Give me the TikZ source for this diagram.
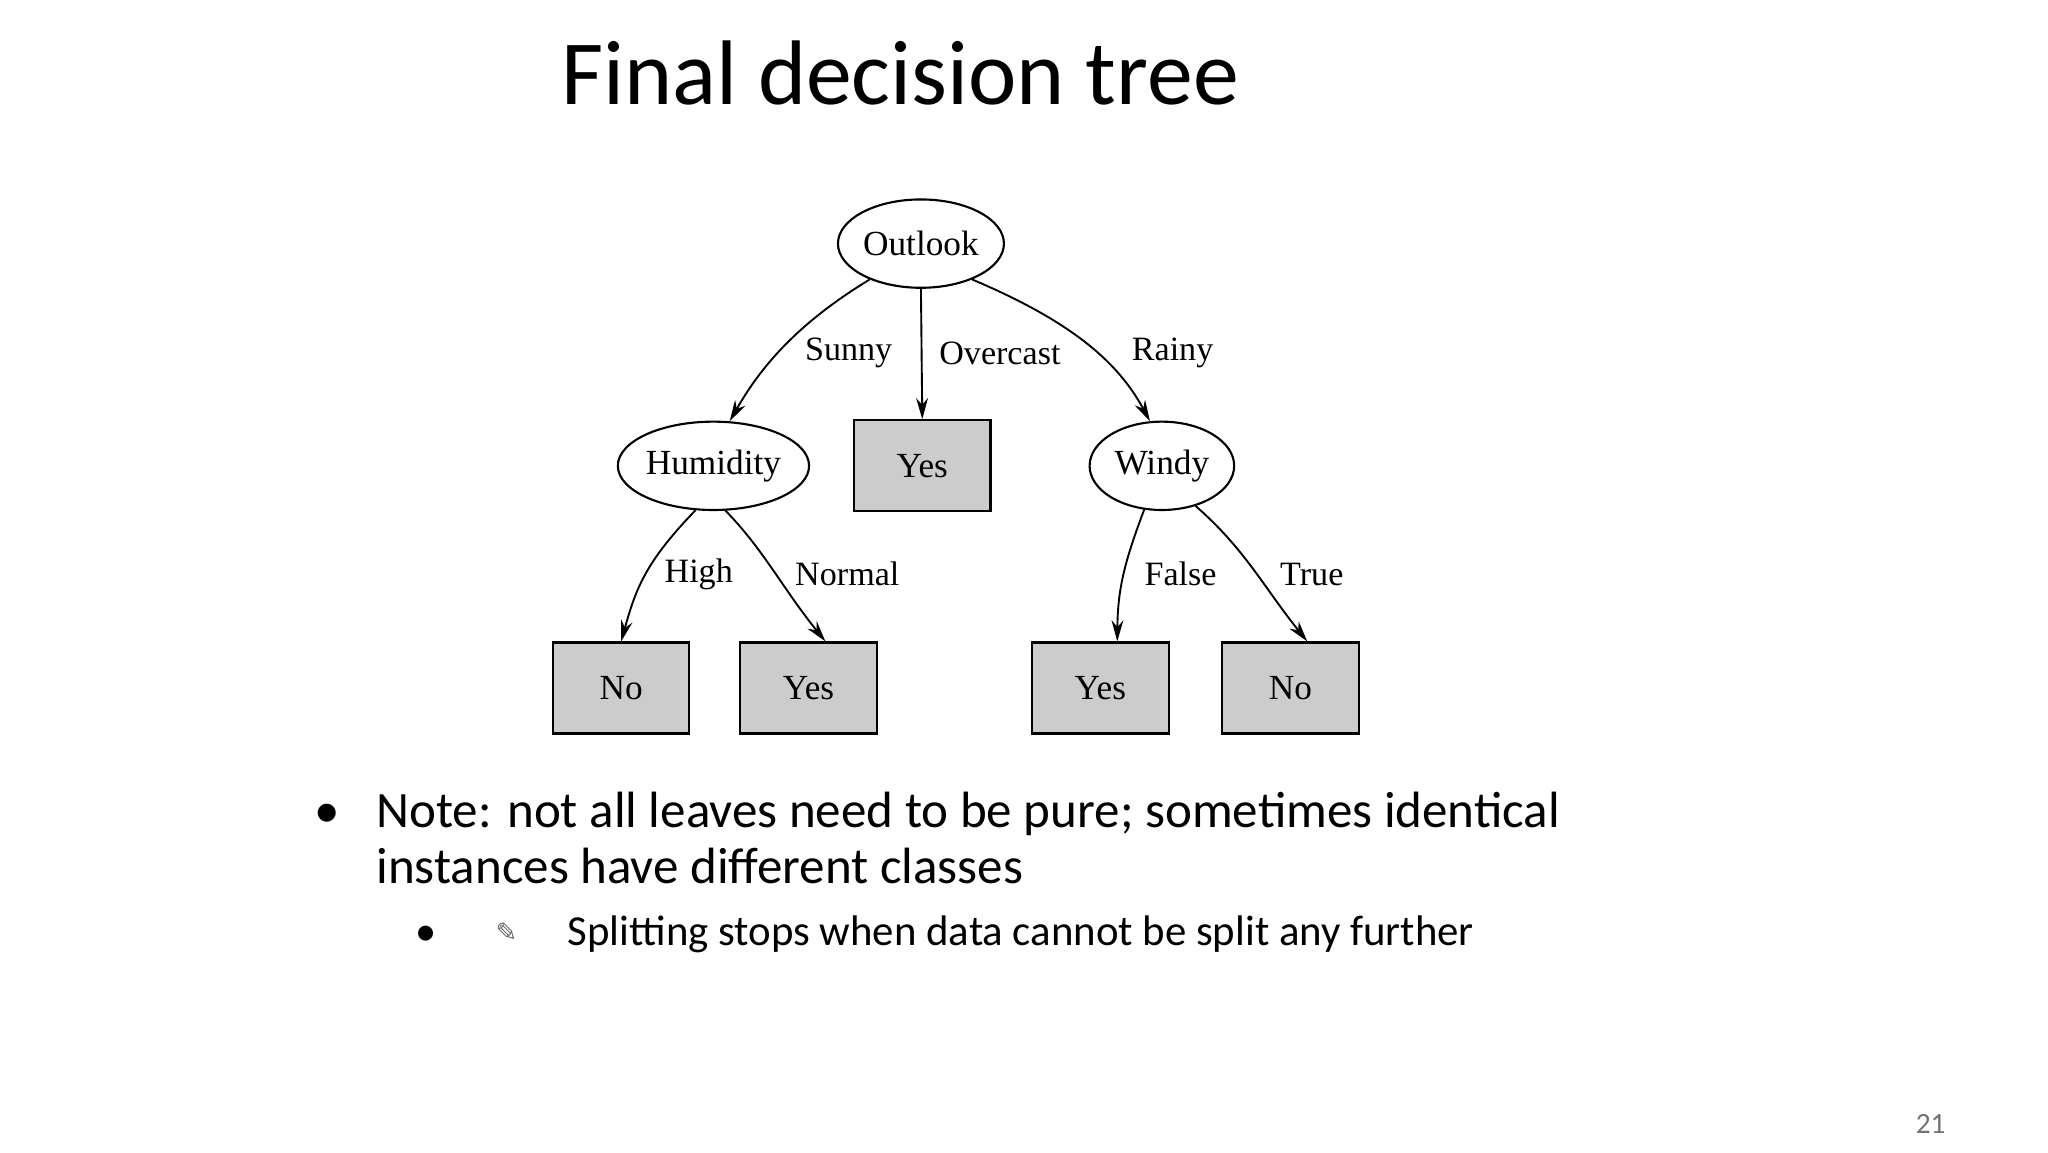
\documentclass[tikz,border=0pt]{standalone}
\usepackage{fontspec}
\setmainfont{Carlito}
\newfontfamily\tms{Liberation Serif}
\newfontfamily\dvs{DejaVu Sans}
\usetikzlibrary{shapes.geometric,arrows.meta}
\begin{document}
\begin{tikzpicture}[x=0.02cm,y=-0.02cm,
  el/.style={ellipse,draw,line width=0.9pt,minimum width=#1,minimum height=66*0.02cm,inner sep=0pt,font=\tms\fontsize{15}{18}\selectfont},
  leaf/.style={draw,line width=0.9pt,fill=black!20,minimum width=102*0.02cm,minimum height=68*0.02cm,inner sep=0pt,font=\tms\fontsize{15}{18}\selectfont},
  lbl/.style={font=\tms\fontsize{14.5}{18}\selectfont},
  edge/.style={-{Stealth[length=9pt,width=5pt]},line width=0.8pt}]
\useasboundingbox (0,0) rectangle (1530,861);
\node[anchor=base west,font=\fontsize{39}{46}\selectfont] (title) at (413,78) {Final decision tree};
\node[el=124*0.02cm] (o) at (688,182) {Outlook};
\node[el=140*0.02cm] (h) at (533,348) {Humidity};
\node[leaf] (y1) at (689,348) {Yes};
\node[el=108*0.02cm] (w) at (868,348) {Windy};
\node[leaf] (n1) at (464,514) {No};
\node[leaf] (y2) at (604,514) {Yes};
\node[leaf] (y3) at (822,514) {Yes};
\node[leaf] (n2) at (964,514) {No};
\draw[edge] (o.-145) .. controls (590,245) and (565,280) .. (h.70);
\draw[edge] (o.south) -- (y1.north);
\draw[edge] (o.-35) .. controls (800,240) and (835,270) .. (w.105);
\draw[edge] (h.-112) .. controls (482,420) and (475,440) .. (n1.north);
\draw[edge] (h.-75) .. controls (570,410) and (585,440) .. (y2.70);
\draw[edge] (w.-112) .. controls (840,420) and (835,440) .. (y3.70);
\draw[edge] (w.-50) .. controls (930,410) and (945,440) .. (n2.70);
\node[lbl] (l1) at (634,264) {Sunny};
\node[lbl] (l2) at (747,264) {Overcast};
\node[lbl] (l3) at (876,264) {Rainy};
\node[lbl] (l4) at (522,429) {High};
\node[lbl] (l5) at (633,429) {Normal};
\node[lbl] (l6) at (882,429) {False};
\node[lbl] (l7) at (980,429) {True};
\node[anchor=base west,font=\fontsize{21.7}{26}\selectfont] (b1) at (229,618) {•};
\node[anchor=base west,font=\fontsize{21.7}{26}\selectfont] (t1) at (275,618) {Note: not all leaves need to be pure; sometimes identical};
\node[anchor=base west,font=\fontsize{21.7}{26}\selectfont] (t2) at (275,660) {instances have different classes};
\node[anchor=base west,font=\fontsize{18}{22}\selectfont] (b2) at (304,706) {•};
\node[anchor=base west,font=\dvs\fontsize{11}{14}\selectfont,text=black!60] (sym) at (364,703) {✎};
\node[anchor=base west,font=\fontsize{18.2}{22}\selectfont] (t3) at (418,706) {Splitting stops when data cannot be split any further};
\node[anchor=base west,font=\fontsize{12.5}{15}\selectfont,text=black!55] (pg) at (1425,847) {21};
\end{tikzpicture}
\end{document}
